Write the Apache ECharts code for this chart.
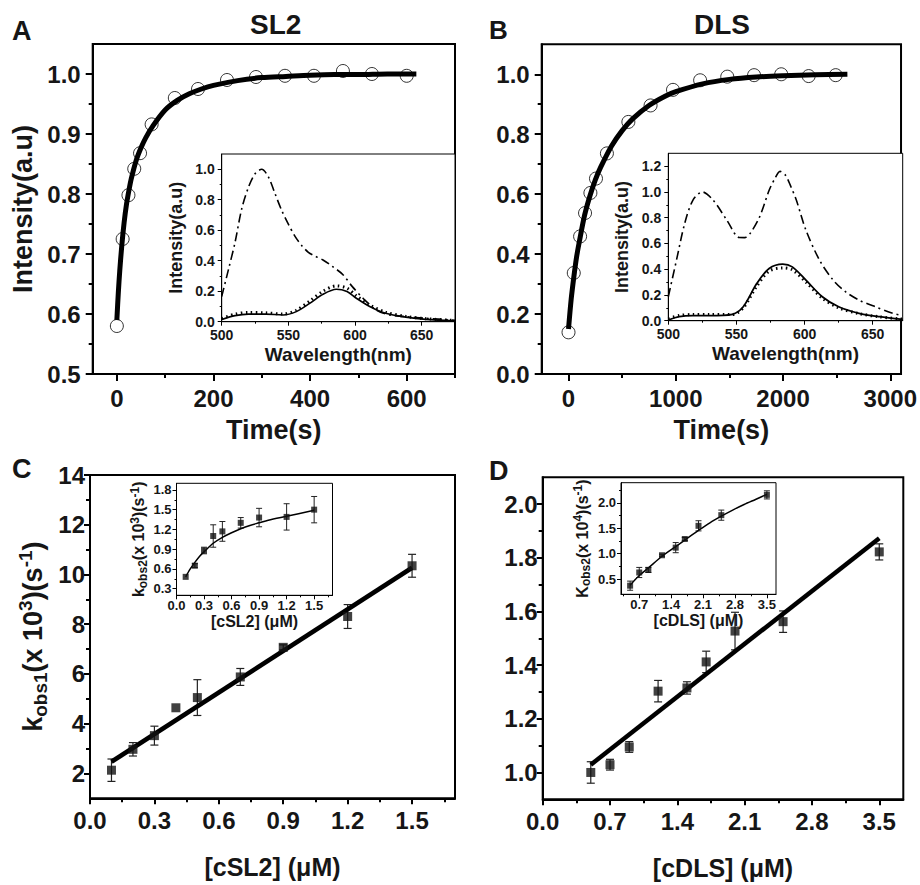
<!DOCTYPE html>
<html><head><meta charset="utf-8">
<script src="https://cdn.jsdelivr.net/npm/echarts@6/dist/echarts.min.js"></script>
<style>html,body{margin:0;padding:0;background:#fff}#c{width:920px;height:885px}</style>
</head><body><div id="c"></div>
<script>
// ================= DATA =================
// Panel A (SL2) kinetics
const timeA = [0, 12, 24, 36, 48, 72, 120, 168, 228, 288, 348, 408, 468, 528, 600];
const intensityA = [0.580, 0.725, 0.798, 0.842, 0.868, 0.916, 0.960, 0.975, 0.990, 0.995, 0.997, 0.997, 1.005, 1.000, 0.997];
const fitTimeA = [0, 3, 6, 10, 15, 20, 25, 30, 40, 50, 60, 75, 100, 125, 150, 175, 200, 250, 300, 350, 400, 450, 500, 560, 620];
const fitA = [0.59, 0.635, 0.672, 0.712, 0.752, 0.783, 0.806, 0.826, 0.856, 0.877, 0.894, 0.914, 0.940, 0.956, 0.967, 0.975, 0.981, 0.989, 0.994, 0.996, 0.998, 0.999, 0.999, 1.0, 1.0];
// Panel A inset spectra
const wlA_dashDot = [500, 505, 510, 515, 520, 525, 530, 535, 540, 545, 550, 555, 560, 565, 570, 576, 583, 591, 598, 606, 616, 626, 638, 653, 675];
const specA_dashDot = [0.165, 0.34, 0.52, 0.74, 0.88, 0.97, 1.0, 0.95, 0.84, 0.73, 0.64, 0.56, 0.50, 0.455, 0.43, 0.405, 0.363, 0.308, 0.23, 0.154, 0.077, 0.044, 0.033, 0.022, 0.01];
const wlA_solid = [500, 510, 520, 533, 546, 556, 566, 576, 586, 594, 601, 611, 623, 638, 653, 675];
const specA_solid = [0.015, 0.04, 0.05, 0.05, 0.044, 0.066, 0.12, 0.18, 0.213, 0.198, 0.154, 0.10, 0.055, 0.03, 0.015, 0.006];
const specA_dotted = [0.02, 0.05, 0.06, 0.058, 0.05, 0.075, 0.135, 0.20, 0.235, 0.22, 0.17, 0.11, 0.062, 0.035, 0.02, 0.008];
// Panel B (DLS) kinetics
const timeB = [0, 49, 108, 154, 204, 256, 358, 558, 765, 974, 1227, 1480, 1730, 1983, 2239, 2491];
const intensityB = [0.139, 0.337, 0.459, 0.537, 0.604, 0.652, 0.736, 0.841, 0.896, 0.948, 0.980, 0.992, 0.997, 1.0, 0.994, 0.997];
const fitTimeB = [0, 25, 50, 75, 100, 150, 200, 250, 300, 400, 500, 600, 750, 900, 1000, 1250, 1500, 1750, 2000, 2300, 2600];
const fitB = [0.15, 0.25, 0.325, 0.39, 0.44, 0.53, 0.595, 0.648, 0.69, 0.76, 0.812, 0.852, 0.896, 0.927, 0.942, 0.968, 0.983, 0.991, 0.995, 0.998, 1.0];
// Panel B inset spectra
const wlB_dashDot = [500, 506, 512, 518, 525, 533, 543, 552, 556, 560, 567, 574, 578, 582, 586, 590, 594, 601, 611, 621, 630, 640, 652, 665, 672];
const specB_dashDot = [0.186, 0.47, 0.754, 0.935, 1.0, 0.935, 0.78, 0.646, 0.645, 0.677, 0.806, 1.013, 1.10, 1.16, 1.13, 1.04, 0.935, 0.703, 0.47, 0.315, 0.225, 0.16, 0.108, 0.057, 0.04];
const wlB_solid = [500, 508, 518, 530, 547, 555, 565, 574, 584, 591, 601, 613, 625, 640, 655, 672];
const specB_solid = [0.005, 0.031, 0.039, 0.039, 0.05, 0.108, 0.29, 0.406, 0.44, 0.418, 0.315, 0.186, 0.108, 0.057, 0.031, 0.01];
const specB_dotted = [0.015, 0.04, 0.048, 0.048, 0.048, 0.10, 0.27, 0.385, 0.41, 0.395, 0.30, 0.175, 0.10, 0.055, 0.03, 0.012];
// Panel C (cSL2)
const concC = [0.1, 0.2, 0.3, 0.4, 0.5, 0.7, 0.9, 1.2, 1.5];
const kobs1C = [2.13, 2.97, 3.52, 4.64, 5.05, 5.88, 7.07, 8.31, 10.35];
const kobs1CErr = [0.45, 0.27, 0.38, 0, 0.72, 0.34, 0.1, 0.48, 0.46];
const fitConcC = [0.1, 1.5];
const fitKobs1C = [2.47, 10.27];
const kobs2C = [0.48, 0.65, 0.88, 1.10, 1.17, 1.30, 1.38, 1.39, 1.50];
const kobs2CErr = [0, 0.03, 0.05, 0.17, 0.15, 0.08, 0.14, 0.2, 0.2];
const fitConcC2 = [0.1, 0.15, 0.2, 0.25, 0.3, 0.4, 0.5, 0.6, 0.7, 0.8, 0.9, 1.0, 1.2, 1.5];
const fitKobs2C = [0.48, 0.60, 0.70, 0.79, 0.86, 0.99, 1.08, 1.15, 1.21, 1.26, 1.30, 1.34, 1.40, 1.49];
// Panel D (cDLS)
const concD = [0.5, 0.7, 0.9, 1.2, 1.5, 1.7, 2.0, 2.5, 3.5];
const kobs1D = [1.0, 1.029, 1.095, 1.303, 1.315, 1.412, 1.527, 1.562, 1.822];
const kobs1DErr = [0.04, 0.02, 0.02, 0.04, 0.023, 0.04, 0.07, 0.04, 0.03];
const fitConcD = [0.5, 3.5];
const fitKobs1D = [1.029, 1.873];
const kobs2D = [0.37, 0.63, 0.68, 0.97, 1.12, 1.29, 1.55, 1.76, 2.16];
const kobs2DErr = [0.09, 0.1, 0.05, 0.02, 0.1, 0.03, 0.1, 0.1, 0.08];
const fitConcD2 = [0.5, 0.7, 0.9, 1.2, 1.5, 1.7, 2.0, 2.25, 2.5, 2.75, 3.0, 3.25, 3.5];
const fitKobs2D = [0.38, 0.57, 0.72, 0.95, 1.14, 1.27, 1.46, 1.61, 1.74, 1.86, 1.97, 2.07, 2.17];
// Tick labels / tick positions
const ticksAx = [0, 200, 400, 600], minorAx = [100, 300, 500, 700];
const ticksAy = [0.5, 0.6, 0.7, 0.8, 0.9, 1.0], minorAy = [0.55, 0.65, 0.75, 0.85, 0.95];
const ticksBx = [0, 1000, 2000, 3000], minorBx = [500, 1500, 2500];
const ticksBy = [0.0, 0.2, 0.4, 0.6, 0.8, 1.0], minorBy = [0.1, 0.3, 0.5, 0.7, 0.9];
const ticksSpecX = [500, 550, 600, 650], minorSpecX = [525, 575, 625];
const ticksSpecAy = [0.0, 0.2, 0.4, 0.6, 0.8, 1.0], minorSpecAy = [0.1, 0.3, 0.5, 0.7, 0.9];
const ticksSpecBy = [0.0, 0.2, 0.4, 0.6, 0.8, 1.0, 1.2], minorSpecBy = [0.1, 0.3, 0.5, 0.7, 0.9, 1.1];
const ticksCx = [0.0, 0.3, 0.6, 0.9, 1.2, 1.5], minorCx = [0.15, 0.45, 0.75, 1.05, 1.35, 1.65];
const ticksCy = [2, 4, 6, 8, 10, 12, 14], minorCy = [3, 5, 7, 9, 11, 13];
const ticksCinY = [0.3, 0.6, 0.9, 1.2, 1.5, 1.8], minorCinY = [0.45, 0.75, 1.05, 1.35, 1.65];
const ticksDx = [0.0, 0.7, 1.4, 2.1, 2.8, 3.5], minorDx = [0.35, 1.05, 1.75, 2.45, 3.15];
const ticksDy = [1.0, 1.2, 1.4, 1.6, 1.8, 2.0], minorDy = [1.1, 1.3, 1.5, 1.7, 1.9];
const ticksDinX = [0.7, 1.4, 2.1, 2.8, 3.5], minorDinX = [0.35, 1.05, 1.75, 2.45, 3.15];
const ticksDinY = [0.5, 1.0, 1.5, 2.0], minorDinY = [0.75, 1.25, 1.75, 2.25];
// Panel letters and titles
const panelLetters = ['A', 'B', 'C', 'D'];
const panelTitles = ['SL2', 'DLS'];

// ================= BUILD =================
const F = '"Liberation Sans", Arimo, Arial, sans-serif';
const INK = '#161616';
const grids = [], xAxes = [], yAxes = [], series = [];
const zip = (a, b) => a.map((v, i) => [v, b[i]]);
const f0 = v => String(Math.round(v));
const f1 = v => Number(v).toFixed(1);

function addGrid(l, t, w, h, bw, bg) {
  grids.push({left: l, top: t, width: w, height: h, show: true, borderColor: '#000', borderWidth: bw, backgroundColor: bg});
  return grids.length - 1;
}
function addAxis(g, dim, o) {
  const list = dim === 'x' ? xAxes : yAxes;
  const pos = dim === 'x' ? 'bottom' : 'left';
  const ax = {
    type: 'value', gridIndex: g, position: pos, min: o.min, max: o.max,
    axisLine: {show: true, onZero: false, lineStyle: {color: '#000', width: o.lw}},
    axisTick: {show: true, inside: false, length: o.tl, customValues: o.major, lineStyle: {color: '#000', width: o.lw}},
    axisLabel: {show: true, customValues: o.major, margin: o.margin, fontSize: o.fs, fontWeight: 'bold',
      fontFamily: F, color: INK, formatter: o.fmt},
    splitLine: {show: false}
  };
  if (o.name) {
    ax.name = o.name; ax.nameLocation = 'middle'; ax.nameGap = o.nameGap;
    ax.nameTextStyle = Object.assign({fontSize: o.nfs || 20, fontWeight: 'bold', fontFamily: F, color: INK}, o.nameStyle || {});
  }
  list.push(ax);
  const idx = list.length - 1;
  if (o.minor) {
    list.push({type: 'value', gridIndex: g, position: pos, min: o.min, max: o.max,
      axisLine: {show: false, onZero: false}, axisLabel: {show: false}, splitLine: {show: false},
      axisTick: {show: true, inside: false, length: Math.round(o.tl * 0.6), customValues: o.minor, lineStyle: {color: '#000', width: o.lw}}});
  }
  return idx;
}
function lineSeries(xi, yi, xs, ys, width, type, extra) {
  series.push(Object.assign({type: 'line', xAxisIndex: xi, yAxisIndex: yi, data: zip(xs, ys), showSymbol: false,
    symbol: 'none', smooth: 0.3, silent: true,
    lineStyle: {color: '#000', width: width, type: type || 'solid'}, z: 3}, extra || {}));
}
function scatterSeries(xi, yi, xs, ys, symbol, size, hollow) {
  series.push({type: 'scatter', xAxisIndex: xi, yAxisIndex: yi, data: zip(xs, ys), symbol: symbol, symbolSize: size,
    silent: true, z: 4,
    itemStyle: hollow ? {color: 'rgba(255,255,255,0)', borderColor: '#000', borderWidth: 1} : {color: '#111'}});
}
function errSeries(xi, yi, xs, ys, es, cap, w) {
  const data = [];
  xs.forEach((x, i) => { if (es[i] > 0) data.push([x, ys[i] - es[i], ys[i] + es[i]]); });
  series.push({type: 'custom', xAxisIndex: xi, yAxisIndex: yi, data: data, silent: true, z: 3,
    encode: {x: 0, y: [1, 2]},
    renderItem: function (params, api) {
      const lo = api.coord([api.value(0), api.value(1)]);
      const hi = api.coord([api.value(0), api.value(2)]);
      const st = {stroke: '#222', lineWidth: w};
      return {type: 'group', children: [
        {type: 'line', shape: {x1: lo[0], y1: lo[1], x2: hi[0], y2: hi[1]}, style: st},
        {type: 'line', shape: {x1: lo[0] - cap, y1: lo[1], x2: lo[0] + cap, y2: lo[1]}, style: st},
        {type: 'line', shape: {x1: hi[0] - cap, y1: hi[1], x2: hi[0] + cap, y2: hi[1]}, style: st}
      ]};
    }});
}
function richK(letter, sub, pow, big, small, lh) {
  return {
    name: '{k|' + letter + '}{s|' + sub + '}{t|(x 10}{p|' + pow + '}{t|)(s}{p|-1}{t|)}',
    style: {rich: {
      k: {fontSize: big, fontWeight: 'bold', fontFamily: F, color: INK, lineHeight: lh},
      t: {fontSize: big, fontWeight: 'bold', fontFamily: F, color: INK, lineHeight: lh},
      s: {fontSize: small, fontWeight: 'bold', fontFamily: F, color: INK, lineHeight: small, verticalAlign: 'bottom'},
      p: {fontSize: small, fontWeight: 'bold', fontFamily: F, color: INK, lineHeight: small, verticalAlign: 'top'}
    }}
  };
}

// ---- Panel A ----
const gA = addGrid(92.7, 44, 362.3, 330, 2, 'transparent');
const xA = addAxis(gA, 'x', {min: -50, max: 700, major: ticksAx, minor: minorAx, fs: 24, margin: 12, lw: 2, tl: 7, fmt: f0,
  name: 'Time(s)', nameGap: 42, nfs: 27});
const yA = addAxis(gA, 'y', {min: 0.5, max: 1.05, major: ticksAy, minor: minorAy, fs: 24, margin: 12, lw: 2, tl: 7, fmt: f1,
  name: 'Intensity(a.u)', nameGap: 56, nfs: 27});
lineSeries(xA, yA, fitTimeA, fitA, 5);
scatterSeries(xA, yA, timeA, intensityA, 'circle', 13, true);

const gAi = addGrid(221.7, 154, 233.3, 167.7, 1, '#fff');
const xAi = addAxis(gAi, 'x', {min: 500, max: 675, major: ticksSpecX, minor: minorSpecX, fs: 14, margin: 6, lw: 1, tl: 4, fmt: f0,
  name: 'Wavelength(nm)', nameGap: 23, nfs: 19});
const yAi = addAxis(gAi, 'y', {min: 0, max: 1.1, major: ticksSpecAy, minor: minorSpecAy, fs: 14, margin: 7, lw: 1, tl: 4, fmt: f1,
  name: 'Intensity(a.u)', nameGap: 37, nfs: 18});
lineSeries(xAi, yAi, wlA_dashDot, specA_dashDot, 1.6, [9, 4, 2, 4]);
lineSeries(xAi, yAi, wlA_solid, specA_solid, 1.6, 'solid');
lineSeries(xAi, yAi, wlA_solid, specA_dotted, 3, [1.5, 3.5]);

// ---- Panel B ----
const gB = addGrid(541.7, 44.3, 362.6, 329.7, 2, 'transparent');
const xB = addAxis(gB, 'x', {min: -250, max: 3100, major: ticksBx, minor: minorBx, fs: 24, margin: 12, lw: 2, tl: 7, fmt: f0,
  name: 'Time(s)', nameGap: 42, nfs: 27});
const yB = addAxis(gB, 'y', {min: 0, max: 1.1, major: ticksBy, minor: minorBy, fs: 24, margin: 12, lw: 2, tl: 7, fmt: f1});
lineSeries(xB, yB, fitTimeB, fitB, 5);
scatterSeries(xB, yB, timeB, intensityB, 'circle', 13, true);

const gBi = addGrid(668.3, 153.3, 234.4, 167.4, 1, '#fff');
const xBi = addAxis(gBi, 'x', {min: 500, max: 672, major: ticksSpecX, minor: minorSpecX, fs: 14, margin: 6, lw: 1, tl: 4, fmt: f0,
  name: 'Wavelength(nm)', nameGap: 23, nfs: 19});
const yBi = addAxis(gBi, 'y', {min: 0, max: 1.3, major: ticksSpecBy, minor: minorSpecBy, fs: 14, margin: 7, lw: 1, tl: 4, fmt: f1,
  name: 'Intensity(a.u)', nameGap: 37, nfs: 18});
lineSeries(xBi, yBi, wlB_dashDot, specB_dashDot, 1.6, [9, 4, 2, 4]);
lineSeries(xBi, yBi, wlB_solid, specB_solid, 1.8, 'solid');
lineSeries(xBi, yBi, wlB_solid, specB_dotted, 3, [1.5, 3.5]);

// ---- Panel C ----
const rC = richK('k', 'obs1', '3', 27, 19, 34);
const gC = addGrid(90, 475, 365, 323.3, 2, 'transparent');
const xC = addAxis(gC, 'x', {min: 0, max: 1.7, major: ticksCx, minor: minorCx, fs: 24, margin: 10, lw: 2, tl: 6, fmt: f1,
  name: '[cSL2] (μM)', nameGap: 56, nfs: 25});
const yC = addAxis(gC, 'y', {min: 1, max: 14, major: ticksCy, minor: minorCy, fs: 24, margin: 5, lw: 2, tl: 6, fmt: f0,
  name: rC.name, nameGap: 40, nameStyle: rC.style});
errSeries(xC, yC, concC, kobs1C, kobs1CErr, 4, 1.2);
lineSeries(xC, yC, fitConcC, fitKobs1C, 4.5, 'solid', {smooth: false});
scatterSeries(xC, yC, concC, kobs1C, 'rect', 9, false);

const rCi = richK('k', 'obs2', '3', 16, 12, 20);
const gCi = addGrid(176.5, 483.3, 156, 112, 1, '#fff');
const xCi = addAxis(gCi, 'x', {min: 0, max: 1.7, major: ticksCx, minor: minorCx, fs: 13, margin: 4, lw: 1, tl: 4, fmt: f1,
  name: '[cSL2] (μM)', nameGap: 18, nfs: 16});
const yCi = addAxis(gCi, 'y', {min: 0.2, max: 1.9, major: ticksCinY, minor: minorCinY, fs: 13, margin: 5, lw: 1, tl: 4, fmt: f1,
  name: rCi.name, nameGap: 28, nameStyle: rCi.style});
errSeries(xCi, yCi, concC, kobs2C, kobs2CErr, 3, 1);
lineSeries(xCi, yCi, fitConcC2, fitKobs2C, 1.5, 'solid');
scatterSeries(xCi, yCi, concC, kobs2C, 'rect', 6, false);

// ---- Panel D ----
const gD = addGrid(542.7, 477.3, 360.6, 322, 2, 'transparent');
const xD = addAxis(gD, 'x', {min: 0, max: 3.75, major: ticksDx, minor: minorDx, fs: 24, margin: 10, lw: 2, tl: 6, fmt: f1,
  name: '[cDLS] (μM)', nameGap: 56, nfs: 25});
const yD = addAxis(gD, 'y', {min: 0.9, max: 2.1, major: ticksDy, minor: minorDy, fs: 24, margin: 5, lw: 2, tl: 6, fmt: f1});
errSeries(xD, yD, concD, kobs1D, kobs1DErr, 4, 1.2);
lineSeries(xD, yD, fitConcD, fitKobs1D, 4.5, 'solid', {smooth: false});
scatterSeries(xD, yD, concD, kobs1D, 'rect', 9, false);

const rDi = richK('K', 'obs2', '4', 16, 12, 20);
const gDi = addGrid(621, 482.7, 155, 111.6, 1, '#fff');
const xDi = addAxis(gDi, 'x', {min: 0.3, max: 3.7, major: ticksDinX, minor: minorDinX, fs: 13, margin: 4, lw: 1, tl: 4, fmt: f1,
  name: '[cDLS] (μM)', nameGap: 18, nfs: 16});
const yDi = addAxis(gDi, 'y', {min: 0.2, max: 2.4, major: ticksDinY, minor: minorDinY, fs: 13, margin: 5, lw: 1, tl: 4, fmt: f1,
  name: rDi.name, nameGap: 29, nameStyle: rDi.style});
errSeries(xDi, yDi, concD, kobs2D, kobs2DErr, 3, 1);
lineSeries(xDi, yDi, fitConcD2, fitKobs2D, 1.5, 'solid');
scatterSeries(xDi, yDi, concD, kobs2D, 'rect', 6, false);

// ---- Letters / titles as title components ----
function ttl(text, left, top, size) {
  return {text: text, left: left, top: top, padding: 0, itemGap: 0,
    textStyle: {fontSize: size, fontWeight: 'bold', fontFamily: F, color: INK}};
}
const titles = [
  ttl(panelLetters[0], 12, 17, 27), ttl(panelTitles[0], 250, 10, 28),
  ttl(panelLetters[1], 489, 17, 26), ttl(panelTitles[1], 694, 10, 28),
  ttl(panelLetters[2], 12, 455, 27), ttl(panelLetters[3], 489, 457, 27)
];

const chart = echarts.init(document.getElementById('c'), null, {renderer: 'svg', width: 920, height: 885});
chart.setOption({
  animation: false, backgroundColor: '#fff',
  title: titles,
  grid: grids, xAxis: xAxes, yAxis: yAxes, series: series
});
</script>
</body></html>
